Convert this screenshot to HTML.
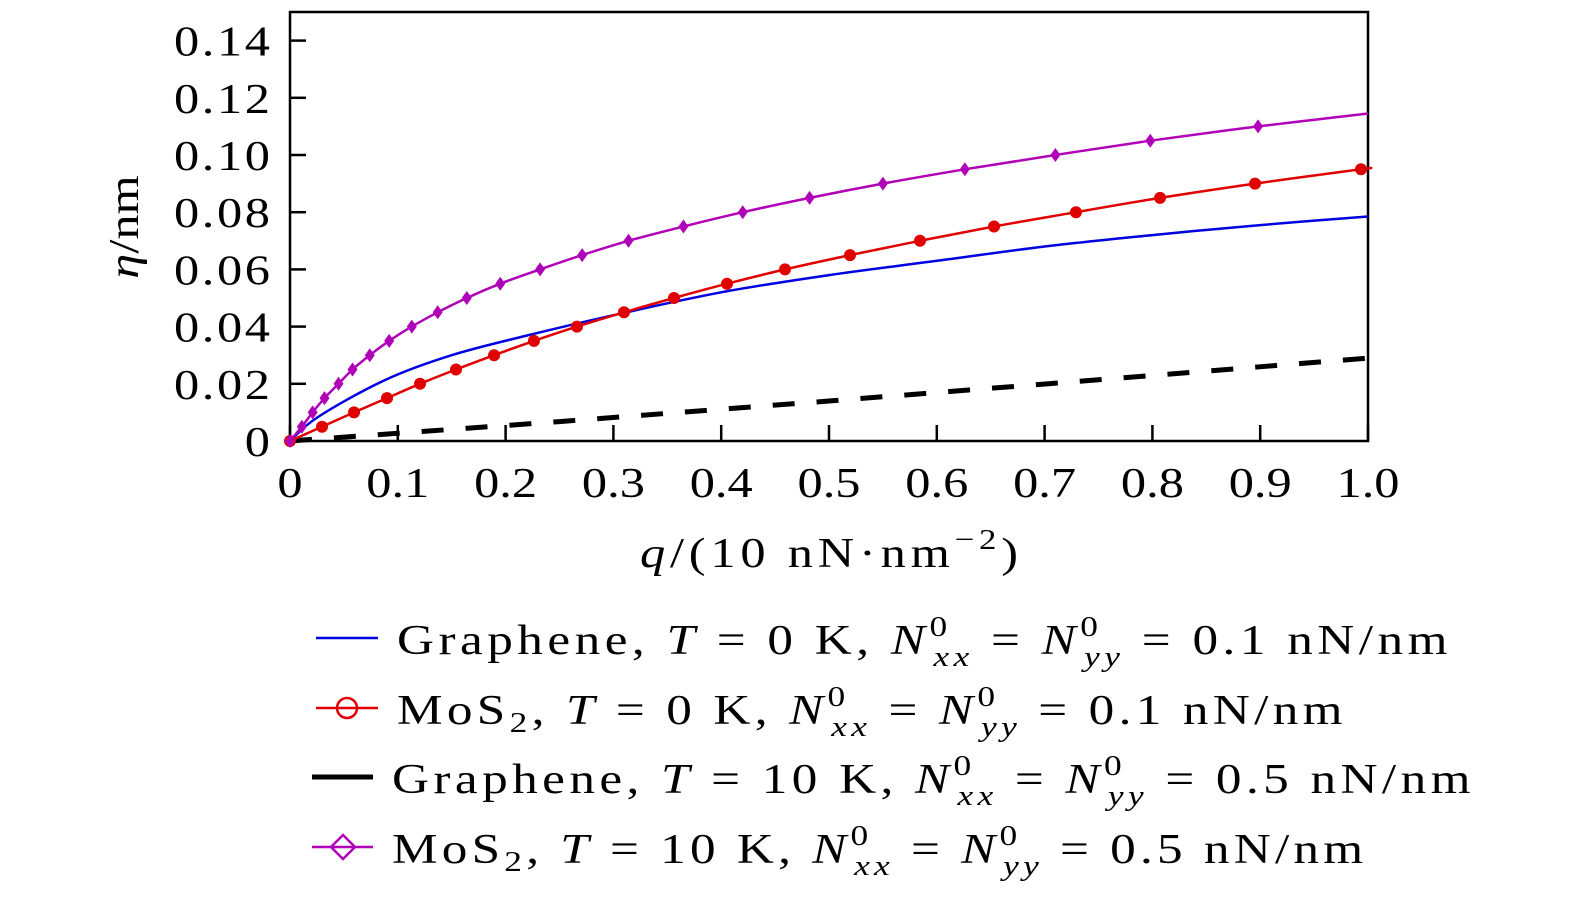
<!DOCTYPE html>
<html><head><meta charset="utf-8"><style>
html,body{margin:0;padding:0;background:#fff;}
svg text{font-family:"Liberation Serif",serif;fill:#000;}
</style></head><body>
<svg id="chart" width="1575" height="896" xmlns="http://www.w3.org/2000/svg">
<g id="plot"></g>
<g id="legend" font-size="42">
  <g>
    <line x1="316" y1="638" x2="378" y2="638" stroke="#0000e0" stroke-width="2.5"/>
    <text transform="translate(397,654) scale(1.22,1)" x="0" y="0" textLength="861" lengthAdjust="spacing">Graphene, <tspan font-style="italic">T</tspan> = 0 K, <tspan font-style="italic">N</tspan><tspan font-size="29" dy="-18">0</tspan><tspan font-size="29" font-style="italic" dx="-15" dy="30">xx</tspan><tspan dy="-12"> = </tspan><tspan font-style="italic">N</tspan><tspan font-size="29" dy="-18">0</tspan><tspan font-size="29" font-style="italic" dx="-15" dy="30">yy</tspan><tspan dy="-12"> = 0.1 nN/nm</tspan></text>
  </g>
  <g>
    <line x1="316" y1="708" x2="378" y2="708" stroke="#e00000" stroke-width="2.5"/>
    <circle cx="347" cy="708" r="10" fill="none" stroke="#e00000" stroke-width="2.5"/>
    <text transform="translate(397,724) scale(1.22,1)" x="0" y="0" textLength="775" lengthAdjust="spacing">MoS<tspan font-size="29" dy="8">2</tspan><tspan dy="-8">, </tspan><tspan font-style="italic">T</tspan> = 0 K, <tspan font-style="italic">N</tspan><tspan font-size="29" dy="-18">0</tspan><tspan font-size="29" font-style="italic" dx="-15" dy="30">xx</tspan><tspan dy="-12"> = </tspan><tspan font-style="italic">N</tspan><tspan font-size="29" dy="-18">0</tspan><tspan font-size="29" font-style="italic" dx="-15" dy="30">yy</tspan><tspan dy="-12"> = 0.1 nN/nm</tspan></text>
  </g>
  <g>
    <line x1="312" y1="777" x2="373" y2="777" stroke="#000" stroke-width="5"/>
    <text transform="translate(392,793) scale(1.22,1)" x="0" y="0" textLength="884" lengthAdjust="spacing">Graphene, <tspan font-style="italic">T</tspan> = 10 K, <tspan font-style="italic">N</tspan><tspan font-size="29" dy="-18">0</tspan><tspan font-size="29" font-style="italic" dx="-15" dy="30">xx</tspan><tspan dy="-12"> = </tspan><tspan font-style="italic">N</tspan><tspan font-size="29" dy="-18">0</tspan><tspan font-size="29" font-style="italic" dx="-15" dy="30">yy</tspan><tspan dy="-12"> = 0.5 nN/nm</tspan></text>
  </g>
  <g>
    <line x1="312" y1="847" x2="373" y2="847" stroke="#b000b8" stroke-width="2.5"/>
    <polygon points="343,835 355,847 343,859 331,847" fill="none" stroke="#b000b8" stroke-width="2.5"/>
    <text transform="translate(392,863) scale(1.22,1)" x="0" y="0" textLength="796" lengthAdjust="spacing">MoS<tspan font-size="29" dy="8">2</tspan><tspan dy="-8">, </tspan><tspan font-style="italic">T</tspan> = 10 K, <tspan font-style="italic">N</tspan><tspan font-size="29" dy="-18">0</tspan><tspan font-size="29" font-style="italic" dx="-15" dy="30">xx</tspan><tspan dy="-12"> = </tspan><tspan font-style="italic">N</tspan><tspan font-size="29" dy="-18">0</tspan><tspan font-size="29" font-style="italic" dx="-15" dy="30">yy</tspan><tspan dy="-12"> = 0.5 nN/nm</tspan></text>
  </g>
</g>
</svg>
<script>
const xTicks = [0,0.1,0.2,0.3,0.4,0.5,0.6,0.7,0.8,0.9,1.0];
const xTickLabels = ["0","0.1","0.2","0.3","0.4","0.5","0.6","0.7","0.8","0.9","1.0"];
const yTicks = [0,0.02,0.04,0.06,0.08,0.10,0.12,0.14];
const yTickLabels = ["0","0.02","0.04","0.06","0.08","0.10","0.12","0.14"];
const blueQ = [0,0.026,0.088,0.15,0.218,0.3,0.4,0.5,0.6,0.7,0.8,0.9,1.0];
const blueEta = [0,0.0084,0.0213,0.030,0.0367,0.044,0.052,0.058,0.063,0.068,0.072,0.0755,0.0785];
const redQ = [0,0.0297,0.0594,0.0900,0.1206,0.1540,0.1893,0.2263,0.2662,0.3098,0.3562,0.4054,0.4592,0.5195,0.5844,0.6531,0.7291,0.8071,0.8952,0.9935];
const redEta = [0,0.005,0.010,0.015,0.020,0.025,0.030,0.035,0.040,0.045,0.050,0.055,0.060,0.065,0.070,0.075,0.080,0.085,0.090,0.095];
const blackQ = [0,0.25,0.5,0.75,1.0];
const blackEta = [0,0.0068,0.0140,0.0214,0.029];
const magQ = [0,0.011,0.021,0.032,0.045,0.058,0.074,0.092,0.113,0.137,0.164,0.195,0.232,0.271,0.314,0.365,0.420,0.482,0.550,0.626,0.710,0.798,0.898];
const magEta = [0,0.005,0.010,0.015,0.020,0.025,0.030,0.035,0.040,0.045,0.050,0.055,0.060,0.065,0.070,0.075,0.080,0.085,0.090,0.095,0.100,0.105,0.110];
const redEnd = 0.0953, magEnd = 0.1145;

const X0=290, X1=1368, Y0=441, YT=12;
const xs = q => X0 + q*(X1-X0);
const ys = v => Y0 - v/0.15*(Y0-YT);
const NS="http://www.w3.org/2000/svg";
const plot=document.getElementById('plot');
function mk(tag, attrs){const e=document.createElementNS(NS,tag);for(const k in attrs)e.setAttribute(k,attrs[k]);plot.appendChild(e);return e;}

let fr=mk('rect',{x:X0,y:YT,width:X1-X0,height:Y0-YT,fill:'none',stroke:'#000','stroke-width':2.5});



xTicks.forEach((t,i)=>{
  const l=mk('line',{x1:xs(t),x2:xs(t),y1:Y0,y2:Y0-16,stroke:'#000','stroke-width':2.5});
  
  
  const s=xTickLabels[i];
  const tx=mk('text',{x:0,y:0,'text-anchor':'middle','font-size':42,transform:`translate(${xs(t)},497) scale(1.2,1)`});
  tx.textContent=s;
  
  
});
yTicks.forEach((t,i)=>{
  const l=mk('line',{x1:X0,x2:X0+16,y1:ys(t),y2:ys(t),stroke:'#000','stroke-width':2.5});
  
  
  const s=yTickLabels[i];
  const tx=mk('text',{x:0,y:0,'text-anchor':'end','font-size':42,transform:`translate(270,${ys(t)+15}) scale(1.2,1)`});
  if(s.length>1){tx.setAttribute('textLength',s.length*20);tx.setAttribute('lengthAdjust','spacing');}
  tx.textContent=s;
  
  
});

function pathOf(qs,vs){return qs.map((q,i)=>(i?'L':'M')+xs(q).toFixed(1)+','+ys(vs[i]).toFixed(1)).join(' ');}
function smooth(qs,vs){let d='M'+xs(qs[0])+','+ys(vs[0]);const P=qs.map((q,i)=>[xs(q),ys(vs[i])]);
  for(let i=0;i<P.length-1;i++){const p0=P[Math.max(0,i-1)],p1=P[i],p2=P[i+1],p3=P[Math.min(P.length-1,i+2)];
    d+=` C${(p1[0]+(p2[0]-p0[0])/6).toFixed(1)},${(p1[1]+(p2[1]-p0[1])/6).toFixed(1)} ${(p2[0]-(p3[0]-p1[0])/6).toFixed(1)},${(p2[1]-(p3[1]-p1[1])/6).toFixed(1)} ${p2[0].toFixed(1)},${p2[1].toFixed(1)}`;}
  return d;}

let bk=mk('path',{d:pathOf(blackQ,blackEta),fill:'none',stroke:'#000','stroke-width':5,'stroke-dasharray':'22,22'});


let bl=mk('path',{d:smooth(blueQ,blueEta),fill:'none',stroke:'#0000e0','stroke-width':2.5});


let rd=mk('path',{d:smooth(redQ.concat([1.0]),redEta.concat([redEnd])),fill:'none',stroke:'#e00000','stroke-width':2.5});


redQ.forEach((q,i)=>{const c=mk('circle',{cx:xs(q),cy:ys(redEta[i]),r:6,fill:'#e00000'});
  
  });
let mg=mk('path',{d:smooth(magQ.concat([1.0]),magEta.concat([magEnd])),fill:'none',stroke:'#b000b8','stroke-width':2.5});


magQ.forEach((q,i)=>{const x=xs(q),y=ys(magEta[i]);const p=mk('polygon',{points:`${x},${y-7} ${x+5},${y} ${x},${y+7} ${x-5},${y}`,fill:'#b000b8'});
  
  });

const xt=mk('text',{x:0,y:0,'font-size':42,transform:'translate(640,567) scale(1.2,1)',textLength:315,lengthAdjust:'spacing'});
xt.innerHTML='<tspan font-style="italic">q</tspan>/(10 nN·nm<tspan font-size="29" dy="-18">−2</tspan><tspan dy="18">)</tspan>';


const yt=mk('text',{x:0,y:0,'text-anchor':'middle','font-size':42,transform:'translate(138,227) rotate(-90) scale(1.2,1)'});
yt.innerHTML='<tspan font-style="italic">η</tspan>/nm';


</script>
</body></html>
